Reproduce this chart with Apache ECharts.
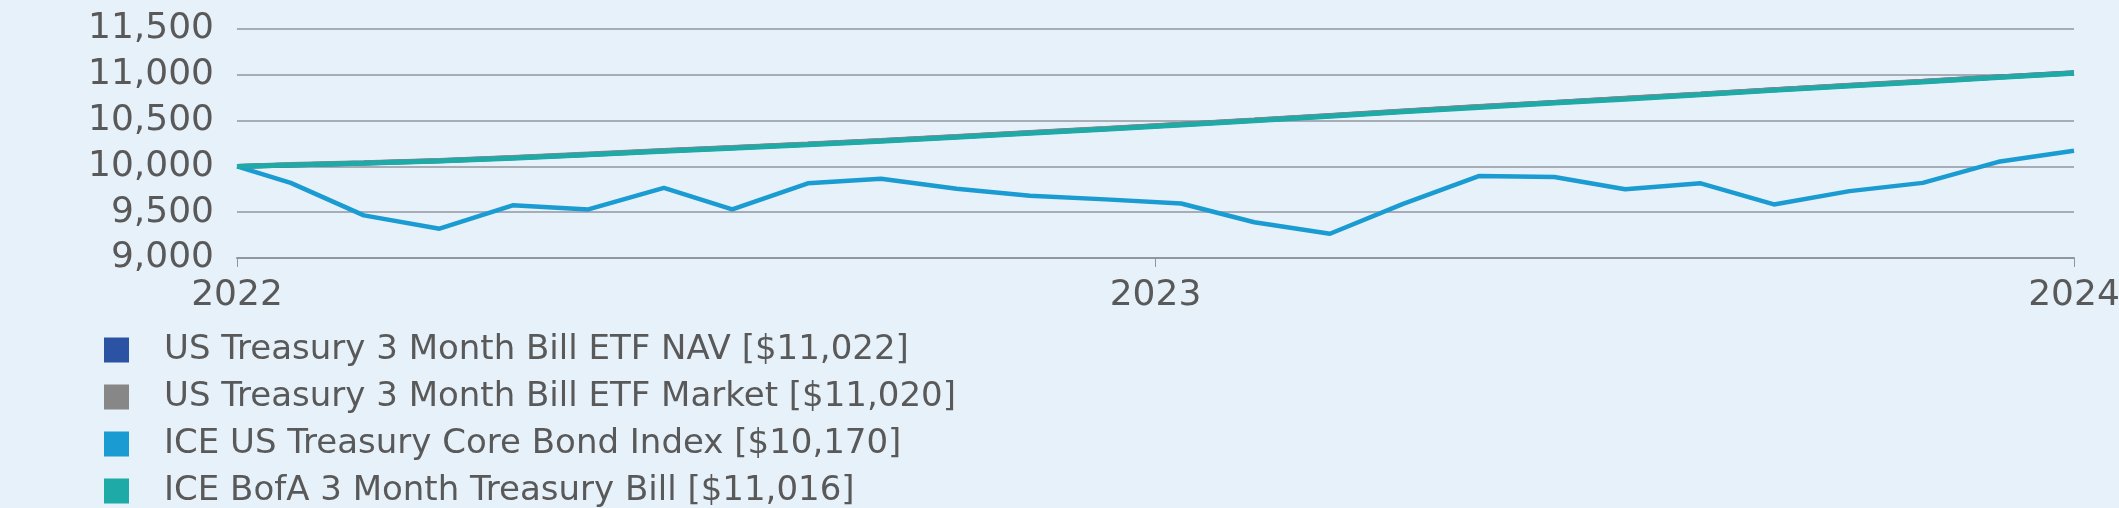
<!DOCTYPE html>
<html>
<head>
<meta charset="utf-8">
<script src="https://cdn.jsdelivr.net/npm/echarts@6/dist/echarts.min.js"></script>
<style>
  html, body { margin: 0; padding: 0; background: #e7f1fa; }
  #chart { width: 2119px; height: 508px; }
</style>
</head>
<body>
<div id="chart"></div>
<script>
const dates = ['2022-08-09','2022-08-31','2022-09-30','2022-10-31','2022-11-30','2022-12-31',
  '2023-01-31','2023-02-28','2023-03-31','2023-04-30','2023-05-31','2023-06-30','2023-07-31',
  '2023-08-31','2023-09-30','2023-10-31','2023-11-30','2023-12-31','2024-01-31','2024-02-29',
  '2024-03-31','2024-04-30','2024-05-31','2024-06-30','2024-07-31','2024-08-31'];

const navValues = [10000, 10016, 10038, 10061, 10094, 10131, 10170, 10203, 10241, 10280, 10324, 10368, 10411,
  10458, 10504, 10554, 10602, 10650, 10697, 10740, 10788, 10836, 10884, 10928, 10976, 11022];
const marketValues = [10000, 10020, 10041, 10064, 10096, 10135, 10173, 10206, 10245, 10283, 10327, 10371, 10413,
  10461, 10507, 10556, 10605, 10653, 10699, 10743, 10790, 10838, 10885, 10930, 10977, 11020];
const coreBondValues = [10000, 9820, 9465, 9320, 9575, 9530, 9765, 9530, 9815, 9865, 9755, 9680, 9640,
  9595, 9390, 9265, 9590, 9895, 9885, 9750, 9815, 9585, 9730, 9820, 10050, 10170];
const tbillValues = [10000, 10014, 10035, 10058, 10090, 10127, 10165, 10198, 10236, 10274, 10318, 10362, 10405,
  10452, 10498, 10548, 10596, 10644, 10691, 10734, 10782, 10830, 10878, 10922, 10970, 11016];

const seriesNames = [
  'US Treasury 3 Month Bill ETF NAV [$11,022]',
  'US Treasury 3 Month Bill ETF Market [$11,020]',
  'ICE US Treasury Core Bond Index [$10,170]',
  'ICE BofA 3 Month Treasury Bill [$11,016]'
];
const xTickLabels = ['2022', '2023', '2024'];
const yTickValues = [9000, 9500, 10000, 10500, 11000, 11500];

const DAY = 86400000;
const t0 = Date.parse(dates[0]);
const dayOffsets = dates.map(d => (Date.parse(d) - t0) / DAY);
const spanDays = dayOffsets[dayOffsets.length - 1];
const pairs = vals => vals.map((v, i) => [dayOffsets[i], v]);

const FONT = '"DejaVu Sans"';
const chart = echarts.init(document.getElementById('chart'), null, { renderer: 'canvas' });
chart.setOption({
  backgroundColor: '#e7f1fa',
  animation: false,
  color: ['#2b52a3', '#878787', '#1a9bd2', '#1eaaa7'],
  grid: { left: 237, right: 45, top: 29, height: 229, outerBoundsMode: 'none', containLabel: false },
  legend: {
    orient: 'vertical',
    left: 104, top: 333, height: 260, padding: 0,
    icon: 'rect',
    itemWidth: 25, itemHeight: 25, itemGap: 13,
    selectedMode: false,
    textStyle: { fontFamily: FONT, fontSize: 34, color: '#595959', padding: [0, 0, 0, 30] },
    data: seriesNames
  },
  xAxis: {
    type: 'value',
    min: 0, max: spanDays, interval: spanDays / 2,
    axisLine: { show: true, lineStyle: { color: '#9096a0', width: 2 } },
    axisTick: { show: true, length: 9, lineStyle: { color: '#9096a0', width: 1 } },
    splitLine: { show: false },
    axisLabel: {
      fontFamily: FONT, fontSize: 36, color: '#595959', margin: 20,
      showMinLabel: true, showMaxLabel: true,
      formatter: (v, i) => xTickLabels[i] ?? ''
    }
  },
  yAxis: {
    type: 'value',
    min: yTickValues[0], max: yTickValues[yTickValues.length - 1], interval: 500,
    axisLine: { show: false }, axisTick: { show: false },
    splitLine: { show: true, lineStyle: { color: '#9096a0', width: 1.5 } },
    axisLabel: {
      fontFamily: FONT, fontSize: 36, color: '#595959', margin: 23,
      padding: [0, 0, 12, 0],
      formatter: v => v.toLocaleString('en-US')
    }
  },
  series: [
    { name: seriesNames[0], type: 'line', data: pairs(navValues), showSymbol: false, lineStyle: { width: 5 } },
    { name: seriesNames[1], type: 'line', data: pairs(marketValues), showSymbol: false, lineStyle: { width: 5 } },
    { name: seriesNames[2], type: 'line', data: pairs(coreBondValues), showSymbol: false, lineStyle: { width: 4.5 } },
    { name: seriesNames[3], type: 'line', data: pairs(tbillValues), showSymbol: false, lineStyle: { width: 5 } }
  ]
});
</script>
</body>
</html>
